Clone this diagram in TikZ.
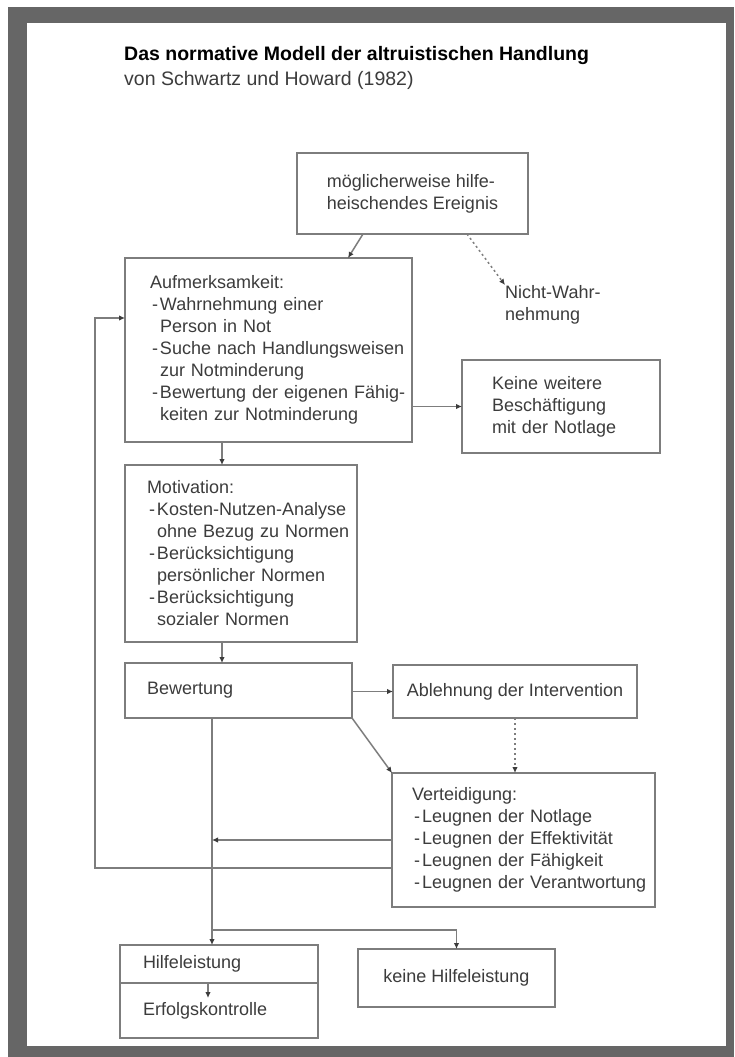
\documentclass[tikz,border=0pt]{standalone}
\usepackage{fontspec}
\setmainfont{Liberation Sans}
\usepackage{xcolor}
\usepackage{tikz}
\usetikzlibrary{arrows.meta,positioning}

\definecolor{rahmen}{RGB}{102,102,102}
\definecolor{linie}{RGB}{125,125,125}
\definecolor{schrift}{RGB}{60,60,60}

\newcommand{\pkt}[1]{\mbox{\makebox[10pt][c]{-}#1}}
\newcommand{\wt}[1]{\mbox{\hspace*{10pt}#1}}

\begin{document}
\begin{tikzpicture}[
    x=1pt, y=-1pt,
    box/.style={rectangle, draw=linie, line width=1.6pt, outer sep=0pt, anchor=north west, align=left, inner ysep=0pt, font=\fontsize{18}{22}\selectfont, text=schrift},
    arr/.style={-{Latex[length=6pt,width=5.5pt,color=schrift]}, draw=linie, line width=1.5pt},
    dots/.style={arr, dash pattern=on 2pt off 3pt}
]
% Rahmen
\useasboundingbox (0,0) rectangle (734,1057);
\fill[rahmen] (8,7) rectangle (734,1057);
\fill[white] (27,23) rectangle (726,1046);

\node[anchor=base west, inner sep=0pt, font=\fontsize{19.5}{24}\selectfont\bfseries] (titel) at (124,61) {Das normative Modell der altruistischen Handlung};
\node[anchor=base west, inner sep=0pt, font=\fontsize{19.5}{24}\selectfont, text=schrift] (quelle) at (124,85) {von Schwartz und Howard (1982)};

\node[box, minimum width=231pt, minimum height=81pt, inner xsep=0pt] (ereignis) at (297,153) {möglicherweise hilfe-\\heischendes Ereignis};
\node[anchor=north west, inner sep=0pt, align=left, font=\fontsize{18}{22}\selectfont, text=schrift] (nicht) at (505,285) {Nicht-Wahr-\\nehmung};

\node[box, text width=237pt, inner xsep=25pt, minimum height=184pt] (aufm) at (125,258) {Aufmerksamkeit:\\ \pkt{Wahrnehmung einer}\\ \wt{Person in Not}\\ \pkt{Suche nach Handlungsweisen}\\ \wt{zur Notminderung}\\ \pkt{Bewertung der eigenen Fähig-}\\ \wt{keiten zur Notminderung}};
\node[box, text width=138pt, inner xsep=30pt, minimum height=93pt] (keine) at (462,360) {Keine weitere\\Beschäftigung\\mit der Notlage};

\node[box, text width=188pt, inner xsep=22pt, minimum height=177pt, below=23pt of aufm.south west, anchor=north west] (motiv) {Motivation:\\ \pkt{Kosten-Nutzen-Analyse}\\ \wt{ohne Bezug zu Normen}\\ \pkt{Berücksichtigung}\\ \wt{persönlicher Normen}\\ \pkt{Berücksichtigung}\\ \wt{sozialer Normen}};
\node[box, text width=183pt, inner xsep=22pt, minimum height=55pt, below=21pt of motiv.south west, anchor=north west] (bewert) {Bewertung};

\node[box, minimum width=244pt, minimum height=53pt, inner xsep=0pt] (ablehn) at (393,665) {Ablehnung der Intervention};
\node[box, text width=223pt, inner xsep=20pt, minimum height=134pt, below=55pt of ablehn.south west, anchor=north west, xshift=-1pt] (verteid) {Verteidigung:\\ \pkt{Leugnen der Notlage}\\ \pkt{Leugnen der Effektivität}\\ \pkt{Leugnen der Fähigkeit}\\ \pkt{Leugnen der Verantwortung}};

\node[box, text width=152pt, inner xsep=23pt, minimum height=38pt] (hilfe) at (120,945) {Hilfeleistung};
\node[box, text width=152pt, inner xsep=23pt, minimum height=55pt, below=0pt of hilfe.south west, anchor=north west] (erfolg) {Erfolgskontrolle};
\node[box, minimum width=197pt, minimum height=58pt, inner xsep=0pt] (keinehilfe) at (358,949) {keine Hilfeleistung};

% Verbindungen
\draw[arr] ([xshift=66pt]ereignis.south west) -- ([xshift=223pt]aufm.north west);
\draw[dots] ([xshift=170pt]ereignis.south west) -- (nicht.north west);
\draw[arr] (keine.west -| aufm.east) -- (keine.west);
\draw[arr] ([xshift=97pt]aufm.south west) -- ([xshift=97pt]motiv.north west);
\draw[arr] ([xshift=97pt]motiv.south west) -- ([xshift=97pt]bewert.north west);
\draw[arr] (ablehn.west -| bewert.east) -- (ablehn.west);
\draw[dots] (ablehn.south) -- (ablehn.south |- verteid.north);
\draw[arr] (bewert.south east) -- (verteid.north west);
\coordinate (achse) at ([xshift=92pt]hilfe.north west);
\draw[arr] (bewert.south -| achse) -- (achse);
\draw[arr] (verteid.west) -- (verteid.west -| achse);
\draw[arr] ([yshift=-28pt]verteid.west) -| ([xshift=-30pt,yshift=32pt]aufm.west) -- ([yshift=32pt]aufm.west);
\draw[arr] ([yshift=19pt]keinehilfe.north -| achse) -| (keinehilfe.north);
\draw[arr] ([xshift=88pt]hilfe.south west) -- ([xshift=88pt,yshift=-15pt]erfolg.north west);
\end{tikzpicture}
\end{document}
